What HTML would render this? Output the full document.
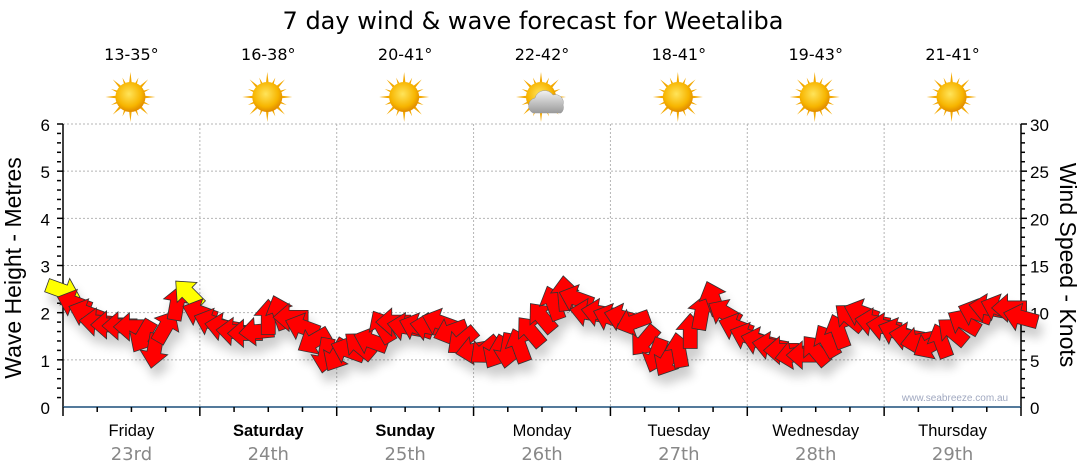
<!DOCTYPE html>
<html><head><meta charset="utf-8">
<style>
body{margin:0;background:#fff;}
svg{display:block;font-family:"Liberation Sans",sans-serif;}
</style></head>
<body>
<svg id="chart" width="1080" height="475" viewBox="0 0 1080 475">
<defs>
<filter id="sh" x="-50%" y="-50%" width="200%" height="200%"><feGaussianBlur in="SourceAlpha" stdDeviation="5"/><feOffset dx="4" dy="10"/><feComponentTransfer><feFuncA type="linear" slope="0.2"/></feComponentTransfer><feMerge><feMergeNode/><feMergeNode in="SourceGraphic"/></feMerge></filter>
<radialGradient id="sunG" cx="45%" cy="40%" r="60%"><stop offset="0" stop-color="#ffe45a"/><stop offset="0.7" stop-color="#f7b500"/><stop offset="1" stop-color="#e08a00"/></radialGradient>
<linearGradient id="cloudG" x1="0" y1="0" x2="0" y2="1"><stop offset="0" stop-color="#f2f2f2"/><stop offset="1" stop-color="#9a9a9a"/></linearGradient>
</defs>
<text x="533" y="29" text-anchor="middle" font-size="24" fill="#000" font-family="DejaVu Sans, sans-serif">7 day wind &amp; wave forecast for Weetaliba</text>
<g id="grid"></g>
<g id="axes"></g>
<g id="icons"></g>
<g id="arrows" filter="url(#sh)"></g>
<text x="955" y="401" text-anchor="middle" font-size="10" fill="#a0a8c0">www.seabreeze.com.au</text>
<text transform="translate(21,268) rotate(-90)" text-anchor="middle" font-size="23" fill="#000">Wave Height - Metres</text>
<text transform="translate(1060,265) rotate(90)" text-anchor="middle" font-size="23" fill="#000">Wind Speed - Knots</text>
</svg>
<script>
const days = ["Friday","Saturday","Sunday","Monday","Tuesday","Wednesday","Thursday"];
const dates = ["23rd","24th","25th","26th","27th","28th","29th"];
const boldDays = [false,true,true,false,false,false,false];
const temps = ["13-35°","16-38°","20-41°","22-42°","18-41°","19-43°","21-41°"];
const cloudy = [false,false,false,true,false,false,false];
const waveTicks = [0,1,2,3,4,5,6];
const windTicks = [0,5,10,15,20,25,30];
// wind speed (knots) every 2 hours
const windSpeed = [12.3,11,10,9,8.7,8.6,8.5,7.5,6,8.5,11,12,
  10,9,8.5,8,7.8,8,9.5,10,9.5,8.5,7,5.5,
  5.5,6,6.5,7,8.5,9,8.5,8.5,8.5,9,8,7,
  6,6,5.8,6,6.5,8,9.5,11,12,11.5,10,10,
  9.5,9.5,9,7,5.5,5,6,8,10,11.5,10,8.5,
  7.5,7,6.5,6,5.5,5.5,6,7,8,9.5,10,9,
  8.5,8,7.5,7,6.5,7,8,9,10,10.5,10.5,10.5,9.5];
// arrow pointing angle in degrees (screen: 0=right, 90=down)
const windDir = [20,200,200,185,180,180,180,120,100,300,280,225,
  200,200,190,185,180,175,270,250,180,200,150,100,
  120,200,220,200,240,180,190,200,190,200,160,140,
  170,140,120,100,250,230,230,250,265,200,190,190,
  200,195,160,130,110,120,260,270,280,250,210,200,
  200,195,190,180,170,180,230,240,250,220,200,190,
  190,200,190,170,150,250,220,210,200,190,200,180,195];
const alertIdx = [0,11];

const svg=document.getElementById('chart');
const NS="http://www.w3.org/2000/svg";
const X0=63,X1=1021,Y0=407,Y1=124;
const dayW=(X1-X0)/7;
function xHour(h){return X0+h/24*dayW;}
function yWave(v){return Y0-(v/6)*(Y0-Y1);}
function yWind(v){return Y0-(v/30)*(Y0-Y1);}
function mk(tag,attrs,parent){const e=document.createElementNS(NS,tag);for(const k in attrs)e.setAttribute(k,attrs[k]);parent.appendChild(e);return e;}

const grid=document.getElementById('grid'), axes=document.getElementById('axes'), icons=document.getElementById('icons'), arrows=document.getElementById('arrows');
waveTicks.forEach(v=>{ if(v>0){const l=mk('line',{x1:X0,x2:X1,y1:yWave(v),y2:yWave(v),stroke:'#b5b5b5','stroke-dasharray':'2,2'},grid);

}
 const t=mk('text',{x:50,y:yWave(v)+7,'text-anchor':'end','font-size':17,fill:'#000'},axes);t.textContent=v;
 
 
});
windTicks.forEach(v=>{const t=mk('text',{x:1030,y:yWind(v)+7,'font-size':17,fill:'#000'},axes);t.textContent=v;
 
 });
for(let i=1;i<=30;i++){const y=yWind(i);mk('line',{x1:1021,x2:(i%5==0?1027:1025),y1:y,y2:y,stroke:'#000','stroke-width':1.5},axes);}
for(let i=1;i<=30;i++){const y=yWave(i/5);mk('line',{x1:57,x2:(i%5==0?63:61),y1:y,y2:y,stroke:'#000','stroke-width':1.5},axes);}
mk('line',{x1:63,x2:63,y1:124,y2:407,stroke:'#000','stroke-width':1.5},axes);
mk('line',{x1:1021,x2:1021,y1:124,y2:407,stroke:'#000','stroke-width':1.5},axes);
mk('line',{x1:63,x2:1021,y1:407,y2:407,stroke:'#1b4f7a','stroke-width':1.5},axes);
for(let i=0;i<=28;i++){const x=xHour(i*6);mk('line',{x1:x,x2:x,y1:407,y2:(i%4==0?416:412),stroke:'#000','stroke-width':1.5},axes);}
days.forEach((d,i)=>{
 const cx=X0+(i+0.5)*dayW;
 if(i>0){const l=mk('line',{x1:X0+i*dayW,x2:X0+i*dayW,y1:124,y2:407,stroke:'#b5b5b5','stroke-dasharray':'2,2'},grid);
 
 }
 const t=mk('text',{x:cx,y:436,'text-anchor':'middle','font-size':16.5,fill:'#000','font-weight':boldDays[i]?'bold':'normal'},axes);t.textContent=d;
 
 
 const t2=mk('text',{x:cx,y:460,'text-anchor':'middle','font-size':18,fill:'#888','font-family':'DejaVu Sans, sans-serif'},axes);t2.textContent=dates[i];
 
 
 const t3=mk('text',{x:cx,y:60,'text-anchor':'middle','font-size':16,fill:'#000','font-family':'DejaVu Sans, sans-serif'},icons);t3.textContent=temps[i];
 
 
 const g=mk('g',{transform:`translate(${cx-1},97)`},icons);
 
 
 for(let r=0;r<16;r++){const a=r*22.5;const len=r%2?21:25;mk('polygon',{points:`-3,0 3,0 0,-${len}`,fill:'#f3a800',transform:`rotate(${a})`},g);}
 mk('circle',{r:15,fill:'url(#sunG)'},g);
 if(cloudy[i]){mk('path',{d:'M-8,16 a8,8 0 0 1 2,-15 a10,10 0 0 1 18,-3 a8,8 0 0 1 10,10 a7,7 0 0 1 -2,8 z',fill:'url(#cloudG)',stroke:'#999','stroke-width':0.5},g);}
});
windSpeed.forEach((v,i)=>{
 const x=xHour(i*2), y=yWind(v);
 const p=mk('polygon',{points:'-17,-7 2,-7 2,-14 18,0 2,14 2,7 -17,7',
   fill: alertIdx.includes(i)?'#ffff00':'#ff0000',stroke:'#333','stroke-width':0.8,
   transform:`translate(${x},${y}) rotate(${windDir[i]})`},arrows);
 
 
});
</script>
</body></html>
